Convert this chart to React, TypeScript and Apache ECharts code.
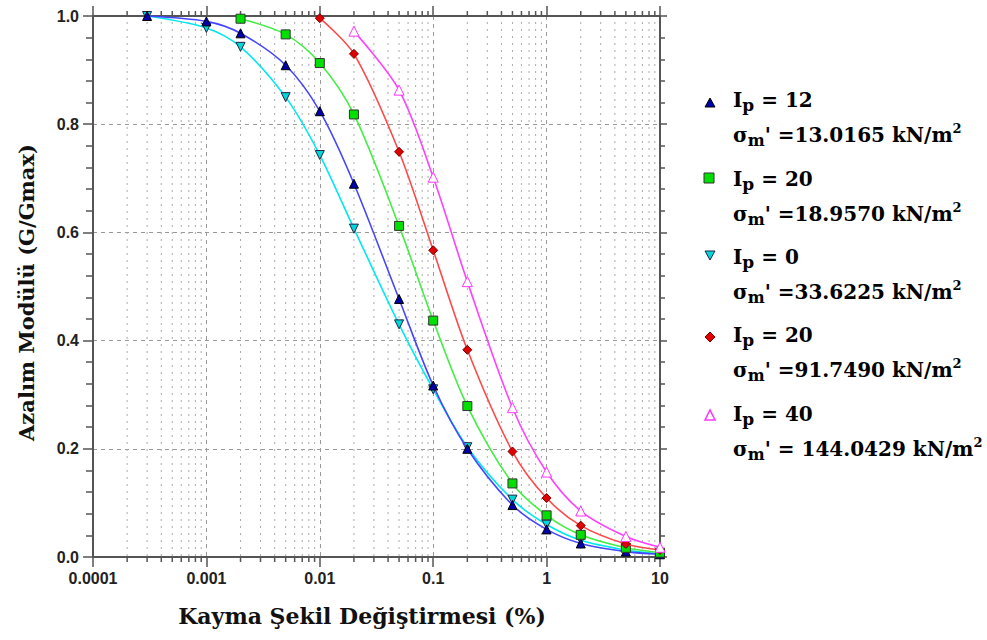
import React, { useEffect, useRef } from 'react';
import * as echarts from 'echarts';

// strain (%) sample points for each curve
const strainIp12 = [0.0003, 0.001, 0.002, 0.005, 0.01, 0.02, 0.05, 0.1, 0.2, 0.5, 1, 2, 5, 10];
const strainIp0 = [0.0003, 0.001, 0.002, 0.005, 0.01, 0.02, 0.05, 0.1, 0.2, 0.5, 1, 2, 5, 10];
const strainIp20a = [0.002, 0.005, 0.01, 0.02, 0.05, 0.1, 0.2, 0.5, 1, 2, 5, 10];
const strainIp20b = [0.01, 0.02, 0.05, 0.1, 0.2, 0.5, 1, 2, 5, 10];
const strainIp40 = [0.02, 0.05, 0.1, 0.2, 0.5, 1, 2, 5, 10];

// G/Gmax values
const gIp12 = [1.0, 0.99, 0.968, 0.909, 0.824, 0.69, 0.477, 0.317, 0.2, 0.096, 0.051, 0.025, 0.01, 0.005];
const gIp0 = [1.0, 0.978, 0.943, 0.85, 0.743, 0.607, 0.43, 0.31, 0.203, 0.106, 0.06, 0.031, 0.013, 0.006];
const gIp20a = [0.995, 0.966, 0.913, 0.818, 0.612, 0.437, 0.279, 0.136, 0.077, 0.041, 0.017, 0.008];
const gIp20b = [0.996, 0.93, 0.749, 0.567, 0.383, 0.195, 0.109, 0.058, 0.024, 0.013];
const gIp40 = [0.972, 0.863, 0.702, 0.509, 0.276, 0.157, 0.085, 0.038, 0.018];

const xTickLabels = ['0.0001', '0.001', '0.01', '0.1', '1', '10'];
const yTickLabels = ['0.0', '0.2', '0.4', '0.6', '0.8', '1.0'];

const decades = [0.0001, 0.001, 0.01, 0.1, 1];
const minorMultipliers = [2, 3, 4, 5, 6, 7, 8, 9];

const legendIp = ['12', '20', '0', '20', '40'];
const legendSigma = ['=13.0165', '=18.9570', '=33.6225', '=91.7490', '= 144.0429'];

const SERIF = 'DejaVu Serif';
const SANS = 'Liberation Sans';

export default function App() {
  const ref = useRef<HTMLDivElement>(null);

  useEffect(() => {
    if (!ref.current) return;
    const chart = echarts.init(ref.current, undefined, { renderer: 'svg' });

    const minorX: number[] = [];
    decades.forEach((d) => minorMultipliers.forEach((m) => minorX.push(+(d * m).toPrecision(3))));

    const axisColor = '#555';
    const labelStyle = { fontFamily: SANS, fontWeight: 'bold' as const, fontSize: 16, color: '#222' };

    const mkLine = (
      name: string,
      xs: number[],
      ys: number[],
      lineColor: string,
      symbol: string,
      fill: string,
      border: string,
      size: number,
      rotate = 0,
      z = 3
    ) => ({
      type: 'line',
      name,
      data: xs.map((x, i) => [x, ys[i]]),
      smooth: 0.3,
      symbol,
      symbolSize: size,
      symbolRotate: rotate,
      showAllSymbol: true,
      lineStyle: { color: lineColor, width: 1.6 },
      itemStyle: { color: fill, borderColor: border, borderWidth: 1 },
      z,
      silent: true,
    });

    const rich = {
      a: { fontFamily: SERIF, fontWeight: 'bold', fontSize: 20, lineHeight: 26, color: '#111' },
      s: { fontFamily: SERIF, fontWeight: 'bold', fontSize: 17, lineHeight: 20, verticalAlign: 'bottom', color: '#111' },
      m: { fontFamily: SERIF, fontWeight: 'bold', fontSize: 16, lineHeight: 18, verticalAlign: 'bottom', color: '#111' },
      u: { fontFamily: SERIF, fontWeight: 'bold', fontSize: 13, lineHeight: 18, verticalAlign: 'top', color: '#111' },
    };

    const legendMarkers = [
      { type: 'polygon', shape: { points: [[705, 107], [715, 107], [710, 98]] }, style: { fill: '#0000aa', stroke: '#000', lineWidth: 1 } },
      { type: 'rect', shape: { x: 704, y: 173, width: 10, height: 10 }, style: { fill: '#00e000', stroke: '#333', lineWidth: 1 } },
      { type: 'polygon', shape: { points: [[705, 251], [715, 251], [710, 260]] }, style: { fill: '#00d8d8', stroke: '#224', lineWidth: 1 } },
      { type: 'polygon', shape: { points: [[710, 332], [715, 337], [710, 342], [705, 337]] }, style: { fill: '#e00000', stroke: '#700', lineWidth: 1 } },
      { type: 'polygon', shape: { points: [[705, 420], [715, 420], [710, 410]] }, style: { fill: '#fff', stroke: '#ff33ff', lineWidth: 1.5 } },
    ];
    const line1Y = [100, 179, 257, 335, 414];
    const legendTexts: any[] = [];
    legendIp.forEach((ip, i) => {
      legendTexts.push({
        type: 'text',
        x: 733,
        y: line1Y[i],
        style: { text: `{a|I}{s|p}{a| = ${ip}}`, rich, verticalAlign: 'middle', align: 'left' },
      });
      legendTexts.push({
        type: 'text',
        x: 733,
        y: line1Y[i] + 35,
        style: { text: `{a|σ}{m|m}{a|' ${legendSigma[i]} kN/m}{u|2}`, rich, verticalAlign: 'middle', align: 'left' },
      });
    });

    chart.setOption({
      animation: false,
      backgroundColor: '#fff',
      grid: { left: 93, right: 327, top: 16, bottom: 83, containLabel: false, outerBoundsMode: 'none' },
      xAxis: [
        {
          type: 'log',
          logBase: 10,
          min: 0.0001,
          max: 10,
          position: 'bottom',
          name: 'Kayma Şekil Değiştirmesi (%)',
          nameLocation: 'middle',
          nameGap: 48,
          nameMoveOverlap: false,
          nameTextStyle: { fontFamily: SERIF, fontWeight: 'bold', fontSize: 22, color: '#111', padding: [0, 29, 0, 0] },
          axisLine: { show: true, onZero: false, lineStyle: { color: axisColor, width: 2 } },
          axisTick: { show: true, length: 10, lineStyle: { color: axisColor, width: 1.5 } },
          axisLabel: {
            ...labelStyle,
            margin: 13,
            formatter: (v: number) => xTickLabels[Math.round(Math.log10(v) + 4)] ?? '',
          },
          splitLine: { show: true, lineStyle: { color: '#999', type: [4, 4], width: 1 } },
        },
        {
          type: 'log',
          logBase: 10,
          min: 0.0001,
          max: 10,
          position: 'top',
          axisLine: { show: true, onZero: false, lineStyle: { color: axisColor, width: 2 } },
          axisTick: { show: true, length: 10, lineStyle: { color: axisColor, width: 1.5 } },
          axisLabel: { show: false },
          splitLine: { show: false },
        },
      ],
      yAxis: [
        {
          type: 'value',
          min: 0,
          max: 1,
          interval: 0.2,
          position: 'left',
          name: 'Azalım Modülü (G/Gmax)',
          nameLocation: 'middle',
          nameRotate: 90,
          nameGap: 56,
          nameMoveOverlap: false,
          nameTextStyle: { fontFamily: SERIF, fontWeight: 'bold', fontSize: 21, color: '#111', padding: [0, 12, 0, 0] },
          axisLine: { show: true, onZero: false, lineStyle: { color: axisColor, width: 2 } },
          axisTick: { show: true, length: 10, lineStyle: { color: axisColor, width: 1.5 } },
          minorTick: { show: true, splitNumber: 5, length: 7, lineStyle: { color: axisColor, width: 1.5 } },
          axisLabel: {
            ...labelStyle,
            margin: 14,
            formatter: (v: number) => yTickLabels[Math.round(v * 5)] ?? '',
          },
          splitLine: { show: true, lineStyle: { color: '#999', type: [4, 4], width: 1 } },
        },
        {
          type: 'value',
          min: 0,
          max: 1,
          interval: 0.2,
          position: 'right',
          axisLine: { show: true, onZero: false, lineStyle: { color: axisColor, width: 2 } },
          axisTick: { show: true, length: 7, lineStyle: { color: axisColor, width: 1.5 } },
          minorTick: { show: true, splitNumber: 5, length: 5, lineStyle: { color: axisColor, width: 1.5 } },
          axisLabel: { show: false },
          splitLine: { show: false },
        },
      ],
      series: [
        {
          type: 'custom',
          silent: true,
          clip: false,
          z: 1,
          xAxisIndex: 0,
          yAxisIndex: 0,
          data: minorX.map((x) => [x, 0]),
          encode: { x: 0, y: 1 },
          renderItem: (_params: any, api: any) => {
            const x = api.value(0);
            const bot = api.coord([x, 0]);
            const top = api.coord([x, 1]);
            return {
              type: 'group',
              children: [
                {
                  type: 'line',
                  shape: { x1: bot[0], y1: bot[1] - 1, x2: top[0], y2: top[1] + 1 },
                  style: { stroke: '#aaa', lineWidth: 1, lineDash: [2, 5] },
                },
                {
                  type: 'line',
                  shape: { x1: bot[0], y1: bot[1], x2: bot[0], y2: bot[1] + 5 },
                  style: { stroke: axisColor, lineWidth: 1.5 },
                },
                {
                  type: 'line',
                  shape: { x1: top[0], y1: top[1], x2: top[0], y2: top[1] - 5 },
                  style: { stroke: axisColor, lineWidth: 1.5 },
                },
              ],
            };
          },
        },
        mkLine('Ip = 0', strainIp0, gIp0, '#00e8ee', 'triangle', '#00d8d8', '#224', 9, 180, 3),
        mkLine('Ip = 12', strainIp12, gIp12, '#4646ff', 'triangle', '#0000aa', '#000', 9, 0, 4),
        mkLine('Ip = 20 (18.9570)', strainIp20a, gIp20a, '#44ee44', 'rect', '#00e000', '#333', 9, 0, 5),
        mkLine('Ip = 20 (91.7490)', strainIp20b, gIp20b, '#ff4848', 'diamond', '#e00000', '#700', 9, 0, 6),
        mkLine('Ip = 40', strainIp40, gIp40, '#ff40ff', 'triangle', '#ffffff', '#ff33ff', 10, 0, 7),
      ],
      graphic: [...legendMarkers, ...legendTexts],
    } as any);

    return () => chart.dispose();
  }, []);

  return (
    <div
      ref={ref}
      style={{ position: 'fixed', left: 0, top: 0, width: 987, height: 640, background: '#fff' }}
    />
  );
}
